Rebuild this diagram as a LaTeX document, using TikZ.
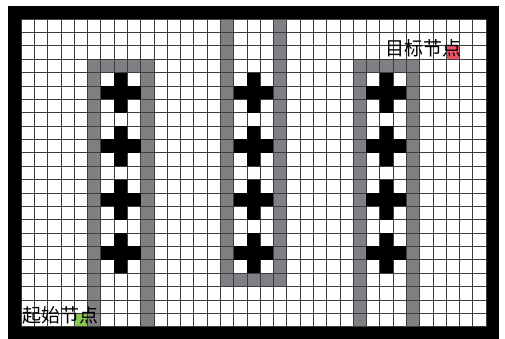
\documentclass[tikz,border=0pt]{standalone}
\usepackage{fontspec}
\newfontfamily\cjk{Noto Sans CJK SC}
\definecolor{wallgray}{RGB}{128,128,132}
\definecolor{startgreen}{RGB}{137,201,77}
\definecolor{goalred}{RGB}{236,84,104}
\definecolor{gridcol}{RGB}{60,60,60}
\begin{document}
\begin{tikzpicture}[x=1pt,y=-1pt,
  wall/.style={fill=wallgray},
  block/.style={fill=black},
  gridln/.style={draw=gridcol,line width=0.7pt},
  lbl/.style={font=\cjk\fontsize{19}{21}\selectfont,inner sep=0pt,text=black}]
\useasboundingbox (0,0) rectangle (505,339);
\fill[black] (8.3,5.7) rectangle (499,339);
\fill[white] (21,19) rectangle (486,326.7);
\begin{scope}[shift={(21,19)},x=13.286pt,y=-13.38pt]
  % side U-shaped walls (open downward)
  \foreach \c in {5,25}{
    \fill[wall] (\c,3) rectangle ({\c+5},4);
    \fill[wall] (\c,4) rectangle ({\c+1},23);
    \fill[wall] ({\c+4},4) rectangle ({\c+5},23);
  }
  % middle U-shaped wall (open upward)
  \fill[wall] (15,0) rectangle (16,20);
  \fill[wall] (19,0) rectangle (20,20);
  \fill[wall] (16,19) rectangle (19,20);
  % start and goal cells
  \fill[startgreen] (4,22) rectangle (5,23);
  \fill[goalred] (32,2) rectangle (33,3);
  % grid
  \foreach \c in {0,...,35}{\draw[gridln] (\c,0) -- (\c,23);}
  \foreach \r in {0,...,23}{\draw[gridln] (0,\r) -- (35,\r);}
  % crosses
  \foreach \c in {7,17,27}{
    \foreach \r in {5,9,13,17}{
      \fill[block] ({\c-1},\r) rectangle ({\c+2},{\r+1});
      \fill[block] (\c,{\r-1}) rectangle ({\c+1},{\r+2});
    }
  }
\end{scope}
\node[lbl] (startlbl) at (60.8,315.8) {起始节点};
\node[lbl] (goallbl) at (423.7,48.3) {目标节点};
\end{tikzpicture}
\end{document}
